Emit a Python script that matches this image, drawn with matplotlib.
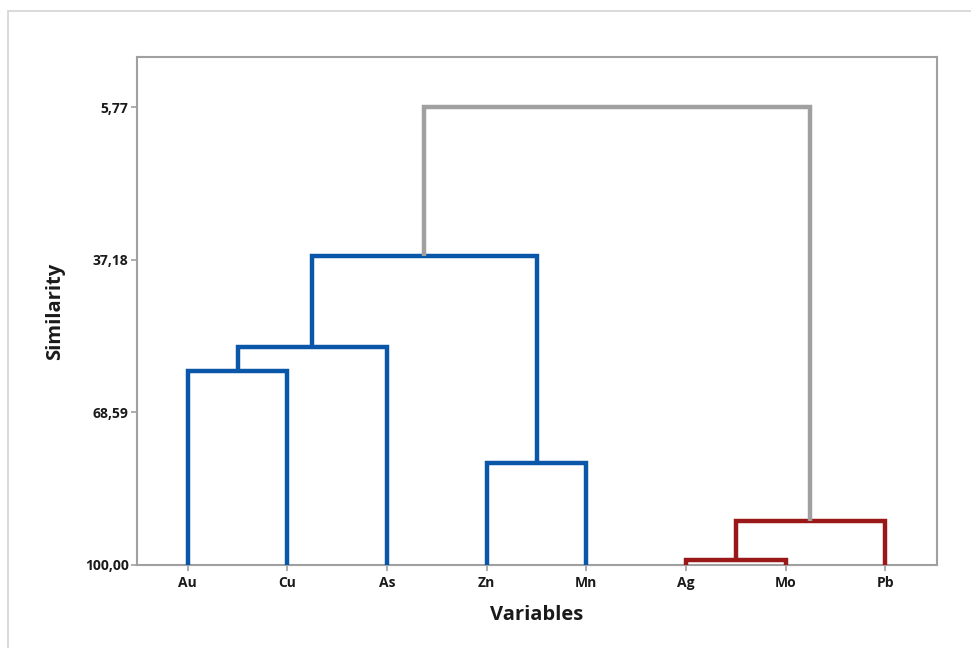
import matplotlib
matplotlib.use("Agg")
import matplotlib.pyplot as plt
from matplotlib.patches import Rectangle

# leaves in dendrogram order
leaves = ['Au', 'Cu', 'As', 'Zn', 'Mn', 'Ag', 'Mo', 'Pb']

# merges (scipy-style cluster ids: leaves 0..7, new clusters 8..)
merge_a = [0, 8, 3, 9, 5, 12, 11]
merge_b = [1, 2, 4, 10, 6, 7, 13]
merge_sim = [60.0, 55.2, 79.1, 36.4, 98.9, 90.95, 5.77]
merge_col = ['blue', 'blue', 'blue', 'blue', 'red', 'red', 'gray']

yticks = [5.77, 37.18, 68.59, 100.00]
ytick_labels = ['5,77', '37,18', '68,59', '100,00']

colors = {'blue': '#0a56a8', 'red': '#9b1818', 'gray': '#a0a0a0'}
font = ['Open Sans', 'DejaVu Sans']

fig = plt.figure(figsize=(9.71, 6.48), dpi=100)
fig.patches.append(Rectangle((8 / 971, -0.1), 1.2, 1.1 - 11 / 648, transform=fig.transFigure,
                             fill=False, edgecolor='#d4d4d4', linewidth=1.2))
ax = fig.add_axes([137 / 971, 83 / 648, 800 / 971, 508 / 648])

# positions and heights of every cluster
pos = {i: float(i + 1) for i in range(len(leaves))}
height = {i: 100.0 for i in range(len(leaves))}
for k, (a, b, s, c) in enumerate(zip(merge_a, merge_b, merge_sim, merge_col)):
    xa, xb = pos[a], pos[b]
    ax.plot([xa, xa, xb, xb], [height[a], s, s, height[b]], color=colors[c],
            lw=3.2, solid_joinstyle='miter', solid_capstyle='butt', zorder=3)
    new = len(leaves) + k
    pos[new] = (xa + xb) / 2
    height[new] = s

ax.set_xlim(0.49, 8.52)
ax.set_ylim(100, -4.52)
ax.set_xticks(range(1, len(leaves) + 1))
ax.set_xticklabels(leaves)
ax.set_yticks(yticks)
ax.set_yticklabels(ytick_labels)

for sp in ax.spines.values():
    sp.set_color('#a0a0a0')
    sp.set_linewidth(1.5)
ax.tick_params(axis='both', colors='#a0a0a0', length=4, width=1.2, labelcolor='#1a1a1a',
               labelsize=10)
ax.tick_params(axis='x', pad=4)
ax.tick_params(axis='y', pad=2)
for lab in ax.get_xticklabels() + ax.get_yticklabels():
    lab.set_family(font)
    lab.set_fontweight('bold')

ax.set_xlabel('Variables', fontsize=14.5, fontweight='bold', family=font, color='#1a1a1a', labelpad=11)
ax.set_ylabel('Similarity', fontsize=14.5, fontweight='bold', family=font, color='#1a1a1a', labelpad=14)

fig.savefig('out.png', dpi=100)
